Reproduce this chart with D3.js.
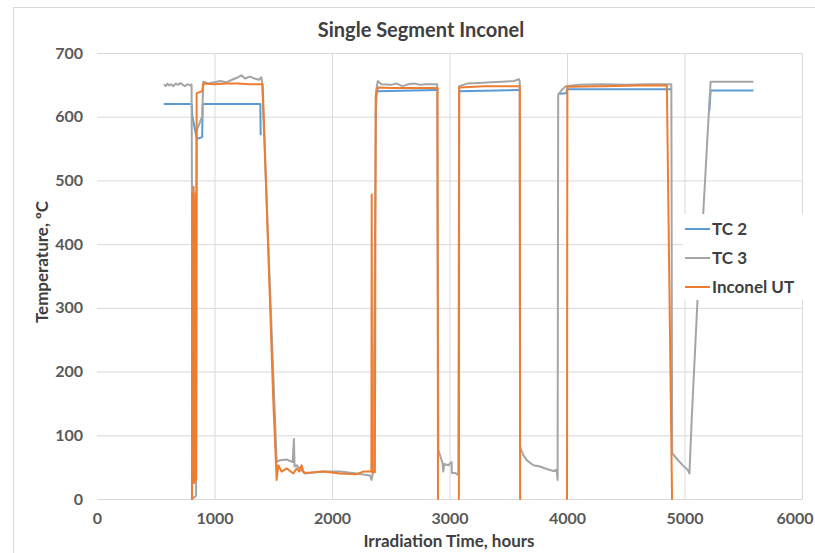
<!DOCTYPE html>
<html><head><meta charset="utf-8">
<script src="https://cdn.jsdelivr.net/npm/d3@7"></script>
<style>body{margin:0;background:#fff}svg{display:block}</style>
</head><body>
<svg id="c" width="815" height="553"></svg>
<script>
const title = "Single Segment Inconel";
const xTicks = [0,1000,2000,3000,4000,5000,6000];
const yTicks = [0,100,200,300,400,500,600,700];
const seriesNames = ["TC 2","TC 3","Inconel UT"];
const seriesColors = ["#5B9BD5","#A5A5A5","#ED7D31"];

const tc2Hours = [575,806,812,850,895,900,1390,1393,1394,2372,2380,2900,2901,3082,3595,3596,3928,3995,4000,4885,4886,5212,5222,5580];
const tc2Temps = [620,620,600,565,568,620,620,572,null,600,640,642,null,640,642,null,636,637,643,643,null,610,641,641];

const tc3Hours = [575,585,600,615,630,650,670,690,710,730,750,770,790,805,808,810,843,848,895,905,950,1000,1050,1100,1150,1200,1230,1260,1300,1340,1380,1398,1405,1529,1557,1614,1665,1676,1681,1700,1740,1770,1926,2068,2210,2323,2337,2351,2375,2390,2420,2500,2550,2600,2650,2700,2750,2800,2895,2905,2924,2941,2947,2955,2990,3018,3020,3047,3075,3082,3150,3250,3350,3450,3550,3590,3598,3600,3628,3657,3713,3770,3827,3884,3912,3920,3925,3955,3990,4100,4300,4500,4700,4888,4895,4940,4990,5030,5042,5060,5110,5160,5205,5222,5580];
const tc3Temps = [650,648,652,649,651,648,652,650,653,650,648,651,649,651,490,0,5,578,600,655,652,654,656,654,658,662,665,660,663,660,658,662,655,58,61,62,58,94,51,53,45,40,43,43,40,37,30,45,640,656,651,650,652,648,651,652,650,651,651,77,66,56,43,55,53,58,41,41,38,648,652,653,654,655,656,659,655,82,69,61,53,51,47,44,46,30,634,642,648,650,651,650,651,651,72,62,52,45,40,120,310,450,600,655,655];

const utHours = [808,810,812,815,818,822,826,830,835,840,844,848,895,905,1000,1100,1200,1300,1410,1500,1529,1543,1571,1614,1671,1699,1722,1741,1756,1770,1926,2068,2210,2266,2323,2335,2338,2341,2365,2372,2392,2500,2700,2898,2902,2990,3080,3083,3300,3598,3601,3800,4000,4003,4300,4600,4850,4894];
const utTemps = [0,480,25,470,30,490,25,470,35,480,30,637,640,652,651,652,652,651,651,155,30,53,43,48,40,48,43,53,43,41,43,40,39,43,43,44,478,42,42,632,646,645,645,645,0,null,0,646,648,648,0,null,0,647,648,649,649,0];

const svg = d3.select("#c");
const font = "Lato, 'Open Sans', sans-serif";
const pL = 97, pR = 802, pT = 53, pB = 499;
const x = d3.scaleLinear().domain([0,6000]).range([pL,pR]);
const y = d3.scaleLinear().domain([0,700]).range([pB,pT]);

svg.append("rect").attr("x",13.5).attr("y",7.5).attr("width",820).attr("height",560)
  .attr("fill","#fff").attr("stroke","#d9d9d9");

// gridlines
svg.append("g").attr("transform",`translate(${pL},0)`)
  .call(d3.axisLeft(y).tickValues(yTicks.filter(v=>v>0)).tickSize(-(pR-pL)).tickFormat(""))
  .call(g=>{g.select(".domain").remove();g.selectAll("line").attr("stroke","#d9d9d9");});
svg.append("g").attr("transform",`translate(0,${pB})`)
  .call(d3.axisBottom(x).tickValues(xTicks.filter(v=>v>0)).tickSize(-(pB-pT)).tickFormat(""))
  .call(g=>{g.select(".domain").remove();g.selectAll("line").attr("stroke","#d9d9d9");});

// x axis
svg.append("g").attr("transform",`translate(0,${pB})`)
  .call(d3.axisBottom(x).tickValues(xTicks).tickSize(0).tickPadding(14).tickFormat(d3.format("d")))
  .call(g=>{g.select(".domain").attr("stroke","#d9d9d9");
    g.selectAll("text").attr("font-family",font).attr("font-weight","bold").attr("font-size","16px").attr("fill","#595959");
    g.selectAll(".tick").filter(d=>d===6000).select("text").attr("text-anchor","end").attr("x",813-x(6000));});
// y axis
svg.append("g").attr("transform",`translate(${pL},0)`)
  .call(d3.axisLeft(y).tickValues(yTicks).tickSize(0).tickPadding(14))
  .call(g=>{g.select(".domain").remove();
    g.selectAll("text").attr("font-family",font).attr("font-weight","bold").attr("font-size","16px").attr("fill","#595959");});

// titles
svg.append("text").attr("x",421).attr("y",37).attr("text-anchor","middle")
  .attr("font-family",font).attr("font-weight","bold").attr("font-size","20px").attr("fill","#404040").text(title);
svg.append("text").attr("x",449).attr("y",547).attr("text-anchor","middle")
  .attr("font-family",font).attr("font-weight","bold").attr("font-size","17px").attr("fill","#404040").text("Irradiation Time, hours");
svg.append("text").attr("transform","translate(48,262) rotate(-90)").attr("text-anchor","middle")
  .attr("font-family",font).attr("font-weight","bold").attr("font-size","17px").attr("fill","#404040").text("Temperature, \u00BAC");

// series
const line = d3.line().defined(d=>d[1]!==null).x(d=>x(d[0])).y(d=>y(d[1]));
const series = [
  d3.zip(tc2Hours,tc2Temps),
  d3.zip(tc3Hours,tc3Temps),
  d3.zip(utHours,utTemps)
];
series.forEach((s,i)=>{
  svg.append("path").datum(s).attr("d",line).attr("fill","none")
    .attr("stroke",seriesColors[i]).attr("stroke-width",2).attr("stroke-linejoin","round").attr("stroke-linecap","round");
});

// legend
const lg = svg.append("g");
lg.append("rect").attr("x",683).attr("y",214).attr("width",125).attr("height",86).attr("fill","#fff");
seriesNames.forEach((n,i)=>{
  const yy = 229 + i*29;
  lg.append("line").attr("x1",685).attr("x2",710).attr("y1",yy).attr("y2",yy)
    .attr("stroke",seriesColors[i]).attr("stroke-width",2);
  lg.append("text").attr("x",712).attr("y",yy+6).attr("font-family",font).attr("font-weight","bold")
    .attr("font-size","17px").attr("fill","#404040").text(n);
});
</script>
</body></html>
